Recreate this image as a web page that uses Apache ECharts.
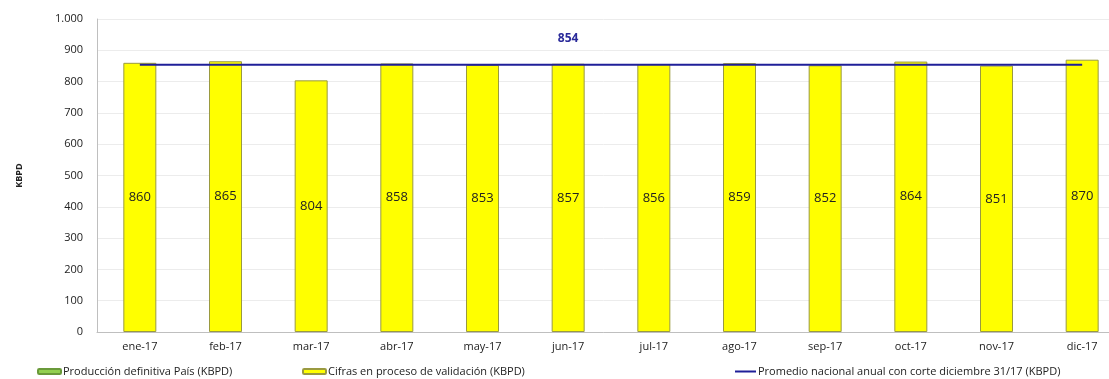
<!DOCTYPE html>
<html>
<head>
<meta charset="utf-8">
<script src="https://cdn.jsdelivr.net/npm/echarts@6/dist/echarts.min.js"></script>
<style>
  html, body { margin: 0; padding: 0; background: #fff; }
  #chart { width: 1109px; height: 379px; }
</style>
</head>
<body>
<div id="chart"></div>
<script>
const months = ["ene-17", "feb-17", "mar-17", "abr-17", "may-17", "jun-17", "jul-17", "ago-17", "sep-17", "oct-17", "nov-17", "dic-17"];
const definitiva = [];
const validacion = [860, 865, 804, 858, 853, 857, 856, 859, 852, 864, 851, 870];
const promedio = [854, 854, 854, 854, 854, 854, 854, 854, 854, 854, 854, 854];
const promedioLabelIdx = 5;
const yTicks = { min: 0, max: 1000, interval: 100 };

const names = [
  "Producción definitiva País (KBPD)",
  "Cifras en proceso de validación (KBPD)",
  "Promedio nacional anual con corte diciembre 31/17 (KBPD)",
];

const font = "'Open Sans', 'DejaVu Sans', sans-serif";
const chart = echarts.init(document.getElementById("chart"));

function fmtThousands(v) {
  return String(v).replace(/\B(?=(\d{3})+(?!\d))/g, ".");
}

const legendBase = {
  top: 361,
  itemWidth: 23,
  itemHeight: 5,
  itemGap: 0,
  textStyle: { fontFamily: font, fontSize: 11, color: "#222", padding: [0, 0, 0, -3] },
  selectedMode: false,
};

chart.setOption({
  animation: false,
  backgroundColor: "#fff",
  // plot area runs past the right edge in the original screenshot
  grid: { left: 97, width: 1028, top: 19, bottom: 47, outerBoundsMode: "none" },
  legend: [
    { ...legendBase, left: 32, data: [names[0]] },
    { ...legendBase, left: 297, data: [names[1]] },
    { ...legendBase, left: 730, itemWidth: 21, itemHeight: 2, data: [{ name: names[2], icon: "rect", itemStyle: { color: "#1f1f99" } }] },
  ],
  xAxis: {
    type: "category",
    data: months,
    axisLine: { lineStyle: { color: "#bfbfbf" } },
    axisTick: { show: false },
    axisLabel: { color: "#222", fontFamily: font, fontSize: 11, margin: 9 },
  },
  yAxis: {
    type: "value",
    min: yTicks.min,
    max: yTicks.max,
    interval: yTicks.interval,
    name: "KBPD",
    nameLocation: "middle",
    nameGap: 73,
    nameTextStyle: { fontFamily: font, fontSize: 9, fontWeight: "bold", color: "#222" },
    axisLine: { show: true, lineStyle: { color: "#bfbfbf" } },
    axisTick: { show: false },
    splitLine: { lineStyle: { color: "#ececec" } },
    axisLabel: { color: "#222", fontFamily: font, fontSize: 11, margin: 14, formatter: fmtThousands },
  },
  series: [
    {
      name: names[0],
      type: "bar",
      data: definitiva,
      itemStyle: { color: "#92d050", borderColor: "#6a9a3a", borderWidth: 1 },
    },
    {
      name: names[1],
      type: "bar",
      data: validacion,
      barWidth: 33,
      barGap: "-100%",
      itemStyle: { color: "#ffff00", borderColor: "#9a9a40", borderWidth: 1 },
      label: {
        show: true,
        position: "inside",
        color: "#222",
        fontFamily: font,
        fontSize: 13,
      },
    },
    {
      name: names[2],
      type: "line",
      data: promedio.map((v, i) =>
        i === promedioLabelIdx
          ? { value: v, label: { show: true, position: "top", distance: 20, color: "#2a2a9a", fontWeight: "bold", fontSize: 12, fontFamily: font } }
          : v
      ),
      symbol: "circle",
      symbolSize: 0,
      lineStyle: { color: "#1f1f99", width: 2 },
      itemStyle: { color: "#1f1f99" },
      z: 5,
    },
  ],
});
</script>
</body>
</html>
